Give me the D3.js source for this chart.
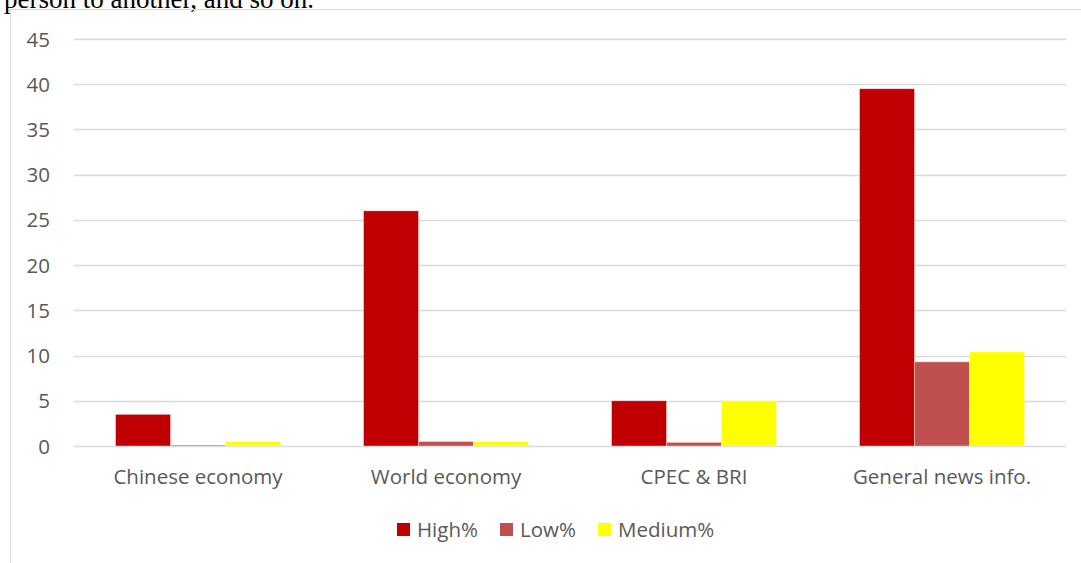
<!DOCTYPE html>
<html>
<head>
<meta charset="utf-8">
<script src="https://cdn.jsdelivr.net/npm/d3@7"></script>
<style>
  body { margin: 0; background: #fff; }
  svg { display: block; }
</style>
</head>
<body>
<svg width="1081" height="563"></svg>
<script>
const categories = ["Chinese economy", "World economy", "CPEC & BRI", "General news info."];
const seriesNames = ["High%", "Low%", "Medium%"];
const high = [3.5, 26, 5, 39.5];
const low = [0.1, 0.5, 0.4, 9.3];
const medium = [0.5, 0.5, 5, 10.4];
const yTicks = [0, 5, 10, 15, 20, 25, 30, 35, 40, 45];
const colors = ["#c00000", "#c0504d", "#ffff00"];

const seriesValues = [high, low, medium];

const svg = d3.select("svg");
const width = +svg.attr("width");
const height = +svg.attr("height");

const margin = { left: 74, right: 15, top: 39, bottom: 117 };
const labelFont = "Open Sans, sans-serif";
const labelSize = 20.5;

// paragraph text cut off above the chart
svg.append("text")
    .attr("x", 4)
    .attr("y", 8)
    .attr("font-family", "Liberation Serif, Times New Roman, serif")
    .attr("font-size", 27)
    .attr("fill", "#000")
    .text("person to another, and so on.");

// chart frame
svg.append("line")
    .attr("x1", 10).attr("x2", width)
    .attr("y1", 9.5).attr("y2", 9.5)
    .attr("stroke", "#d9d9d9");
svg.append("line")
    .attr("x1", 10.5).attr("x2", 10.5)
    .attr("y1", 9).attr("y2", height)
    .attr("stroke", "#d9d9d9");

const x = d3.scaleBand()
    .domain(categories)
    .range([margin.left, width - margin.right])
    .paddingInner(0)
    .paddingOuter(0);

const y = d3.scaleLinear()
    .domain([0, 45])
    .range([height - margin.bottom, margin.top]);

const groupWidth = x.bandwidth() * 0.665;
const x1 = d3.scaleBand()
    .domain(seriesNames)
    .range([0, groupWidth]);

// gridlines
svg.append("g")
    .selectAll("line")
    .data(yTicks)
    .enter()
    .append("line")
    .attr("x1", margin.left)
    .attr("x2", width - margin.right)
    .attr("y1", d => Math.round(y(d)) + 0.5)
    .attr("y2", d => Math.round(y(d)) + 0.5)
    .attr("stroke", "#d9d9d9")
    .attr("stroke-width", 1.3);

// y tick labels
svg.append("g")
    .selectAll("text")
    .data(yTicks)
    .enter()
    .append("text")
    .attr("x", 50)
    .attr("y", d => y(d) + 7.5)
    .attr("text-anchor", "end")
    .attr("font-family", labelFont)
    .attr("font-size", labelSize)
    .attr("fill", "#595959")
    .text(d => d);

// bars
const groups = svg.append("g")
    .selectAll("g")
    .data(categories)
    .enter()
    .append("g")
    .attr("transform", d => `translate(${x(d) + (x.bandwidth() - groupWidth) / 2},0)`);

groups.selectAll("rect")
    .data((d, i) => seriesNames.map((s, j) => ({ series: s, value: seriesValues[j][i], color: colors[j] })))
    .enter()
    .append("rect")
    .attr("x", d => x1(d.series))
    .attr("width", x1.bandwidth())
    .attr("y", d => y(d.value))
    .attr("height", d => y(0) - y(d.value))
    .attr("fill", d => d.color)
    .attr("stroke", "#fff")
    .attr("stroke-opacity", 0.5)
    .attr("stroke-width", 0.7);

// category labels
svg.append("g")
    .selectAll("text")
    .data(categories)
    .enter()
    .append("text")
    .attr("x", d => x(d) + x.bandwidth() / 2)
    .attr("y", 484)
    .attr("text-anchor", "middle")
    .attr("font-family", labelFont)
    .attr("font-size", labelSize)
    .attr("fill", "#595959")
    .text(d => d);

// legend
const legendX = [397, 500, 598];
const legend = svg.append("g")
    .selectAll("g")
    .data(seriesNames)
    .enter()
    .append("g")
    .attr("transform", (d, i) => `translate(${legendX[i]},523)`);

legend.append("rect")
    .attr("width", 13)
    .attr("height", 13)
    .attr("fill", (d, i) => colors[i]);

legend.append("text")
    .attr("x", 20)
    .attr("y", 14)
    .attr("font-family", labelFont)
    .attr("font-size", labelSize)
    .attr("fill", "#595959")
    .text(d => d);
</script>
</body>
</html>
